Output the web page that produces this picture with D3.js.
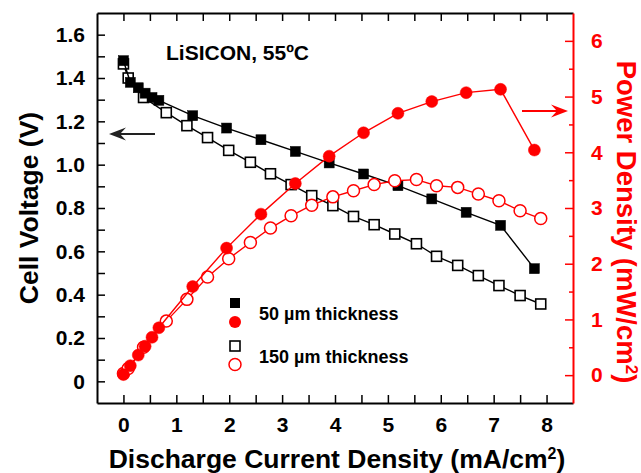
<!DOCTYPE html>
<html><head><meta charset="utf-8">
<script src="https://cdn.jsdelivr.net/npm/d3@7/dist/d3.min.js"></script>
<style>
body{margin:0;background:#fff;}
text{font-family:"Liberation Sans",Arial,Helvetica,sans-serif;font-weight:bold;}
</style></head>
<body><svg id="c" width="641" height="473"></svg>
<script>
// ---- data ----
const current50 = [0, 0.13, 0.28, 0.41, 0.54, 0.67, 1.31, 1.95, 2.6, 3.25, 3.89, 4.54, 5.19, 5.83, 6.48, 7.13, 7.77];
const voltage50 = [1.48, 1.38, 1.355, 1.33, 1.31, 1.297, 1.226, 1.169, 1.115, 1.061, 1.008, 0.957, 0.903, 0.842, 0.78, 0.72, 0.52];
const power50   = [0.01, 0.17, 0.36, 0.52, 0.68, 0.85, 1.59, 2.28, 2.89, 3.44, 3.93, 4.35, 4.70, 4.91, 5.07, 5.13, 4.04];
const current150 = [0, 0.09, 0.38, 0.81, 1.2, 1.59, 1.99, 2.4, 2.78, 3.17, 3.56, 3.96, 4.35, 4.74, 5.13, 5.54, 5.92, 6.32, 6.71, 7.1, 7.5, 7.89];
const voltage150 = [1.465, 1.40, 1.31, 1.24, 1.18, 1.125, 1.066, 1.011, 0.958, 0.908, 0.857, 0.811, 0.761, 0.723, 0.680, 0.635, 0.577, 0.535, 0.488, 0.442, 0.396, 0.357];
const power150   = [0.03, 0.12, 0.50, 0.97, 1.36, 1.76, 2.09, 2.38, 2.64, 2.86, 3.05, 3.20, 3.31, 3.42, 3.49, 3.51, 3.40, 3.37, 3.25, 3.13, 2.95, 2.81];
const xTickLabels = [0, 1, 2, 3, 4, 5, 6, 7, 8];
const vTickLabels = [0, 0.2, 0.4, 0.6, 0.8, 1.0, 1.2, 1.4, 1.6];
const pTickLabels = [0, 1, 2, 3, 4, 5, 6];
const legendLabels = ["50 µm thickness", "150 µm thickness"];
const titleText = "LiSICON, 55ºC";

// ---- layout ----
const W = 641, H = 473;
const m = {l: 97, r: 68, t: 13, b: 70};
const svg = d3.select("#c");
const x = d3.scaleLinear().domain([-0.5, 8.5]).range([m.l, W - m.r]);
const yV = d3.scaleLinear().domain([-0.1, 1.7]).range([H - m.b, m.t]);
const yP = d3.scaleLinear().domain([-0.5, 6.5]).range([H - m.b, m.t]);
const RED = "#ff0000";

const fmtV = v => v === 0 ? "0" : d3.format(".1f")(v);

// x axis bottom
const xMinor = d3.range(0, 8.01, 0.5);
const gxb = svg.append("g").attr("transform", `translate(0,${H - m.b})`)
  .call(d3.axisBottom(x).tickValues(xMinor).tickSizeInner(-8).tickSizeOuter(0)
    .tickPadding(14).tickFormat(d => Number.isInteger(d) && xTickLabels.includes(d) ? d : ""));
const gxt = svg.append("g").attr("transform", `translate(0,${m.t})`)
  .call(d3.axisTop(x).tickValues(xMinor).tickSizeInner(-8).tickSizeOuter(0).tickFormat(""));
// left axis
const vMinor = d3.range(0, 1.601, 0.1).map(d => +d.toFixed(1));
const gyl = svg.append("g").attr("transform", `translate(${m.l},0)`)
  .call(d3.axisLeft(yV).tickValues(vMinor).tickSizeInner(-8).tickSizeOuter(0).tickPadding(12)
    .tickFormat(d => vTickLabels.some(t => Math.abs(t - d) < 1e-6) ? fmtV(d) : ""));
// right axis
const pMinor = d3.range(0, 6.01, 0.5);
const gyr = svg.append("g").attr("transform", `translate(${W - m.r},0)`)
  .call(d3.axisRight(yP).tickValues(pMinor).tickSizeInner(-8).tickSizeOuter(0).tickPadding(18)
    .tickFormat(d => Number.isInteger(d) && pTickLabels.includes(d) ? d : ""));
gyr.selectAll(".tick line").attr("x2", d => Number.isInteger(d) ? -8 : -4);

[gxb, gxt, gyl].forEach(g => {
  g.select(".domain").attr("stroke", "#000").attr("stroke-width", 2);
  g.selectAll(".tick line").attr("stroke", "#000").attr("stroke-width", 1.5);
  g.selectAll("text").attr("fill", "#000").style("font-size", "21px").style("font-weight", "bold");
});
gyr.select(".domain").attr("stroke", RED).attr("stroke-width", 2);
gyr.selectAll(".tick line").attr("stroke", RED).attr("stroke-width", 1.5);
gyr.selectAll("text").attr("fill", RED).style("font-size", "21px").style("font-weight", "bold");

// ---- series ----
const d150 = current150.map((c, i) => ({c, v: voltage150[i], p: power150[i]}));
const d50 = current50.map((c, i) => ({c, v: voltage50[i], p: power50[i]}));
const lineV = d3.line().x(d => x(d.c)).y(d => yV(d.v));
const lineP = d3.line().x(d => x(d.c)).y(d => yP(d.p));
const S = 10, R = 6;

function squares(data, filled) {
  svg.append("path").datum(data).attr("d", lineV).attr("fill", "none").attr("stroke", "#000").attr("stroke-width", 1.4);
  svg.append("g").selectAll("rect").data(data).join("rect")
    .attr("x", d => x(d.c) - S / 2).attr("y", d => yV(d.v) - S / 2)
    .attr("width", S).attr("height", S)
    .attr("fill", filled ? "#000" : "#fff").attr("stroke", "#000").attr("stroke-width", filled ? 0.5 : 1.6);
}
function circles(data, filled) {
  svg.append("path").datum(data).attr("d", lineP).attr("fill", "none").attr("stroke", RED).attr("stroke-width", 1.4);
  svg.append("g").selectAll("circle").data(data).join("circle")
    .attr("cx", d => x(d.c)).attr("cy", d => yP(d.p)).attr("r", R)
    .attr("fill", filled ? RED : "#fff").attr("stroke", RED).attr("stroke-width", filled ? 0.5 : 1.5);
}
squares(d150, false);
squares(d50, true);
circles(d150, false);
circles(d50, true);

// ---- annotations ----
svg.append("text").attr("x", 166).attr("y", 60).style("font-size", "21px").attr("fill", "#000").text(titleText);

function arrow(x1, x2, y, color) {
  svg.append("line").attr("x1", x1).attr("x2", x2 - Math.sign(x2 - x1) * 6).attr("y1", y).attr("y2", y)
    .attr("stroke", color).attr("stroke-width", 1.8);
  const dir = Math.sign(x2 - x1);
  const L = 17, Wd = 6.5, notch = 6;
  svg.append("path")
    .attr("d", `M${x2},${y} L${x2 - dir * L},${y - Wd} L${x2 - dir * (L - notch)},${y} L${x2 - dir * L},${y + Wd} Z`)
    .attr("fill", color);
}
arrow(155, 109, 134, "#222");
arrow(522, 568, 111, RED);

// legend
const lg = svg.append("g");
lg.append("rect").attr("x", 235 - 5).attr("y", 303 - 5).attr("width", 10).attr("height", 10).attr("fill", "#000");
lg.append("circle").attr("cx", 235).attr("cy", 322).attr("r", R).attr("fill", RED);
lg.append("rect").attr("x", 235 - 5).attr("y", 346 - 5).attr("width", 10).attr("height", 10).attr("fill", "#fff").attr("stroke", "#000").attr("stroke-width", 1.6);
lg.append("circle").attr("cx", 235).attr("cy", 364.5).attr("r", R).attr("fill", "#fff").attr("stroke", RED).attr("stroke-width", 1.5);
lg.append("text").attr("x", 259).attr("y", 320).style("font-size", "18px").attr("fill", "#000").text(legendLabels[0]);
lg.append("text").attr("x", 259).attr("y", 363).style("font-size", "18px").attr("fill", "#000").text(legendLabels[1]);

// axis titles
const xt = svg.append("text").attr("x", (m.l + W - m.r) / 2 + 2).attr("y", 468).attr("text-anchor", "middle")
  .style("font-size", "26.5px").attr("fill", "#000");
xt.append("tspan").text("Discharge Current Density (mA/cm");
xt.append("tspan").attr("dy", -9).style("font-size", "16px").text("2");
xt.append("tspan").attr("dy", 9).text(")");

svg.append("text").attr("transform", `translate(38,${yV(0.8)}) rotate(-90)`).attr("text-anchor", "middle")
  .style("font-size", "26.5px").attr("fill", "#000").text("Cell Voltage (V)");

const pt = svg.append("text").attr("transform", `translate(617,${(m.t + H - m.b) / 2 + 14}) rotate(90)`).attr("text-anchor", "middle")
  .style("font-size", "27.5px").attr("fill", RED);
pt.append("tspan").text("Power Density (mW/cm");
pt.append("tspan").attr("dy", -9).style("font-size", "17px").text("2");
pt.append("tspan").attr("dy", 9).text(")");
</script></body></html>
